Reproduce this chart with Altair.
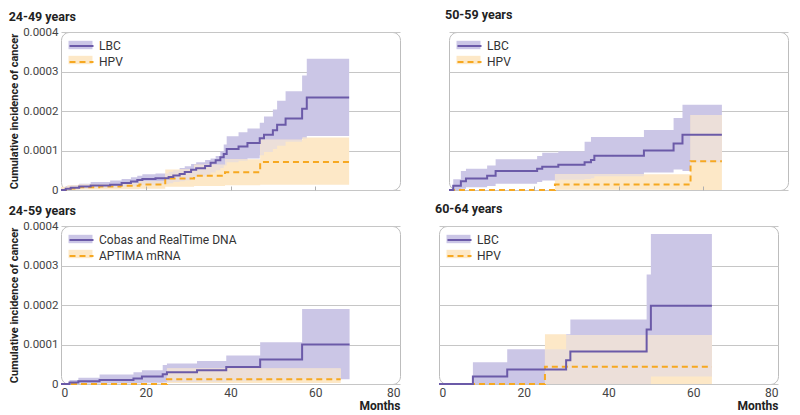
import altair as alt
import pandas as pd

SCALE = 1e-5  # all incidence values below are in units of 0.00001

# ---------- Panel 1: 24-49 years ----------
A_NAMES = ["LBC", "HPV"]
A_LBC_T = [0, 1.1, 2.3, 4.3, 7, 11.6, 14.3, 16.5, 18, 19.2, 22.3, 25.4, 26.5, 28, 29.2, 30.7, 31.9,
           34, 35.3, 36.5, 37.6, 38.4, 39.1, 41.9, 44, 46.9, 47.9, 50, 51, 53, 56.9, 58, 68]
A_LBC_EST = [0, 0.3, 0.56, 0.88, 1.12, 1.36, 1.76, 2.16, 2.56, 2.8, 3.0, 3.28, 3.68, 4.08, 4.56, 5.12, 5.52,
             6.1, 6.9, 7.52, 8.3, 9.1, 10.4, 11.0, 11.9, 13.1, 14.0, 15.1, 16.5, 18.1, 20.6, 23.4, 23.4]
A_LBC_LO = [0, 0.1, 0.2, 0.35, 0.5, 0.6, 0.8, 1.0, 1.2, 1.35, 1.5, 1.7, 2.0, 2.2, 2.5, 3.0, 3.4,
            3.8, 4.4, 5.0, 5.6, 6.2, 7.0, 7.4, 8.0, 8.8, 9.6, 10.4, 11.2, 12.2, 13.0, 13.7, 13.7]
A_LBC_HI = [0.3, 1.0, 1.2, 1.6, 2.0, 2.4, 2.8, 3.2, 3.6, 4.0, 4.2, 4.6, 5.0, 5.6, 6.0, 6.6, 7.0,
            7.6, 8.0, 8.6, 9.8, 11.5, 13.6, 14.6, 15.6, 17.0, 18.6, 20.4, 22.6, 25.0, 29.0, 33.2, 33.2]
A_HPV_T = [0, 1.5, 4, 9, 14, 18.5, 24.6, 31.4, 38.7, 47, 57, 68]
A_HPV_EST = [0, 0.4, 0.7, 0.9, 1.1, 1.4, 2.9, 3.6, 4.5, 7.1, 7.1, 7.1]
A_HPV_LO = [0, 0.05, 0.1, 0.15, 0.2, 0.3, 0.8, 1.0, 1.2, 1.3, 1.3, 1.3]
A_HPV_HI = [0.8, 1.2, 1.4, 1.5, 1.7, 2.2, 5.2, 6.4, 7.8, 12.7, 13.3, 13.3]

# ---------- Panel 2: 50-59 years ----------
B_NAMES = ["LBC", "HPV"]
B_LBC_T = [0, 1.0, 2.8, 4.0, 9.0, 11.0, 20.8, 22.0, 25.8, 32.0, 33.5, 34.3, 46.0, 53.0, 55.1, 57.0, 64.4]
B_LBC_EST = [0, 1.05, 2.2, 2.9, 3.6, 4.8, 5.4, 5.9, 6.4, 7.0, 7.6, 8.7, 10.0, 11.8, 14.0, 14.0, 14.0]
B_LBC_LO = [0, 0, 0.3, 0.7, 1.0, 1.6, 2.0, 2.4, 2.6, 2.8, 3.0, 3.5, 4.4, 5.2, 4.8, 7.0, 7.0]
B_LBC_HI = [0, 2.7, 4.8, 5.4, 6.2, 7.8, 8.6, 9.4, 9.8, 12.2, 13.4, 13.4, 15.2, 18.2, 21.6, 21.6, 21.6]
B_HPV_T = [0, 25.0, 57.0, 64.4]
B_HPV_EST = [0, 1.37, 7.3, 7.3]
B_HPV_LO = [0, 0.05, 0, 0]
B_HPV_HI = [0, 4.0, 19.0, 19.0]

# ---------- Panel 3: 24-59 years ----------
C_NAMES = ["Cobas and RealTime DNA", "APTIMA mRNA"]
C_DNA_T = [0, 2.0, 4.1, 9.1, 17.1, 19.1, 24.0, 25.0, 32.1, 39.0, 47.0, 56.9, 68.1]
C_DNA_EST = [0, 0.35, 0.7, 1.0, 1.4, 1.9, 2.5, 3.0, 3.5, 4.3, 6.2, 10.0, 10.0]
C_DNA_LO = [0, 0, 0.05, 0.1, 0.2, 0.3, 0.4, 0.5, 0.6, 0.8, 1.0, 1.2, 1.2]
C_DNA_HI = [0, 1.0, 1.6, 2.4, 3.0, 3.5, 4.8, 5.2, 5.8, 7.2, 10.6, 19.0, 19.0]
C_MRNA_T = [0, 25.0, 66.0]
C_MRNA_EST = [0, 1.2, 1.2]
C_MRNA_LO = [0, 0.25, 0.25]
C_MRNA_HI = [0.1, 3.95, 3.95]

# ---------- Panel 4: 60-64 years ----------
D_NAMES = ["LBC", "HPV"]
D_LBC_T = [0, 8.0, 16.1, 30.0, 31.0, 49.0, 50.0, 64.4]
D_LBC_EST = [0, 1.9, 3.7, 6.0, 8.2, 13.8, 19.8, 19.8]
D_LBC_LO = [0, 0, 0, 0, 0, 0, 1.9, 1.9]
D_LBC_HI = [0, 5.5, 8.8, 12.6, 16.3, 27.7, 38.0, 38.0]
D_HPV_T = [0, 8.0, 25.0, 30.0, 64.4]
D_HPV_EST = [0, 0, 4.35, 4.35, 4.35]
D_HPV_LO = [0, 0, 0, 0, 0]
D_HPV_HI = [0, 0, 12.6, 12.4, 12.4]

PANEL_TITLES = ["24-49 years", "50-59 years", "24-59 years", "60-64 years"]
Y_TICKS = [0, 0.0001, 0.0002, 0.0003, 0.0004]
X_TICKS = [0, 20, 40, 60, 80]

PURPLE_LINE = "#6b5aa8"
PURPLE_BAND = "#cbc6e6"
ORANGE_LINE = "#f6a821"
ORANGE_BAND = "#fde8c7"
OVERLAP = "#ecdfd9"
GRID = "#c6c6c6"
FONT = "Roboto"

W, H = 339, 158


def series_df(name, t, est, lo, hi):
    return pd.DataFrame({
        "series": name,
        "series2": name + " ",
        "month": t,
        "est": [v * SCALE for v in est],
        "lo": [v * SCALE for v in lo],
        "hi": [v * SCALE for v in hi],
    })


def step_val(ts, vals, x):
    v = vals[0]
    for ti, vi in zip(ts, vals):
        if ti <= x:
            v = vi
        else:
            break
    return v


def overlap_df(s1, s2):
    end = min(s1[0][-1], s2[0][-1])
    grid = sorted(set([t for t in list(s1[0]) + list(s2[0]) if t <= end]) | {end})
    rows = []
    for x in grid:
        lo = max(step_val(s1[0], s1[2], x), step_val(s2[0], s2[2], x))
        hi = min(step_val(s1[0], s1[3], x), step_val(s2[0], s2[3], x))
        if hi < lo:
            hi = lo
        rows.append({"month": x, "lo": lo * SCALE, "hi": hi * SCALE})
    return pd.DataFrame(rows)


def panel(title, names, s1, s2, left, bottom):
    d = pd.concat([series_df(names[0], *s1), series_df(names[1], *s2)], ignore_index=True)
    ov = overlap_df(s1, s2)
    names2 = [n + " " for n in names]

    xscale = alt.Scale(domain=[0, 80], nice=False, zero=False)
    yscale = alt.Scale(domain=[0, 0.0004], nice=False)
    if bottom:
        xaxis = alt.Axis(values=X_TICKS, tickCount=5, ticks=False, domain=False, grid=False,
                         labelFontSize=12, labelColor="#444", labelPadding=3,
                         title="Months", titleAnchor="end", titleFontSize=12,
                         titleFontWeight="bold", titleColor="#222", titlePadding=2)
    else:
        xaxis = alt.Axis(values=[20, 40, 60], tickCount=3, labels=False, ticks=True, tickSize=4,
                         offset=-4, tickColor="#b0b0b0", domain=False, grid=False, title=None,
                         zindex=1)
    if left:
        yaxis = alt.Axis(values=Y_TICKS, tickCount=5, grid=True, gridColor=GRID, domain=False,
                         ticks=False, labelOverlap=False,
                         labelExpr="datum.value == 0 ? '0' : format(datum.value, '.4f')",
                         labelFontSize=11.5, labelColor="#444", labelPadding=3,
                         title="Cumulative incidence of cancer", titleFontSize=11,
                         titleFontWeight="bold", titleColor="#222", titlePadding=3)
    else:
        yaxis = alt.Axis(values=Y_TICKS, tickCount=5, grid=True, gridColor=GRID, domain=False,
                         ticks=False, labels=False, title=None)

    x = alt.X("month:Q", scale=xscale, axis=xaxis)

    common = dict(title=None, orient="none", legendX=13.5, legendY=7, symbolSize=144,
                  labelFontSize=12, padding=0, rowPadding=3, labelOffset=10.5)

    band = alt.Chart(d).mark_area(interpolate="step-after").encode(
        x=x,
        y=alt.Y("lo:Q", scale=yscale, axis=yaxis, stack=None),
        y2="hi:Q",
        fill=alt.Fill("series:N", sort=names,
                      scale=alt.Scale(domain=names, range=[PURPLE_BAND, ORANGE_BAND]),
                      legend=alt.Legend(symbolType="M-2,-0.7H2V0.7H-2Z", symbolStrokeWidth=0,
                                        symbolOpacity=1, labelExpr="' '", zindex=0, **common)),
    )
    over = alt.Chart(ov).mark_area(interpolate="step-after", color=OVERLAP).encode(
        x="month:Q", y=alt.Y("lo:Q", stack=None), y2="hi:Q")

    leg = dict(symbolType="M-2,0H2", symbolStrokeWidth=2, labelColor="#333", zindex=1, **common)
    stroke = alt.Stroke("series2:N", sort=names2,
                        scale=alt.Scale(domain=names2, range=[PURPLE_LINE, ORANGE_LINE]),
                        legend=alt.Legend(**leg))
    dash = alt.StrokeDash("series2:N", sort=names2,
                          scale=alt.Scale(domain=names2, range=[[1, 0], [6, 4]]),
                          legend=alt.Legend(**leg))
    line2 = alt.Chart(d).transform_filter(alt.datum.series == names[1]).mark_line(
        interpolate="step-after", strokeWidth=2).encode(x="month:Q", y="est:Q", stroke=stroke,
                                                        strokeDash=dash)
    line1 = alt.Chart(d).transform_filter(alt.datum.series == names[0]).mark_line(
        interpolate="step-after", strokeWidth=2).encode(x="month:Q", y="est:Q", stroke=stroke,
                                                        strokeDash=dash)

    return alt.layer(band, over, line2, line1).properties(
        width=W, height=H,
        title=alt.TitleParams(title, anchor="start", fontSize=12.5, fontWeight="bold",
                              color="#222", offset=3 if left else 11),
    )


pA = panel(PANEL_TITLES[0], A_NAMES, (A_LBC_T, A_LBC_EST, A_LBC_LO, A_LBC_HI),
           (A_HPV_T, A_HPV_EST, A_HPV_LO, A_HPV_HI), True, False)
pB = panel(PANEL_TITLES[1], B_NAMES, (B_LBC_T, B_LBC_EST, B_LBC_LO, B_LBC_HI),
           (B_HPV_T, B_HPV_EST, B_HPV_LO, B_HPV_HI), False, False)
pC = panel(PANEL_TITLES[2], C_NAMES, (C_DNA_T, C_DNA_EST, C_DNA_LO, C_DNA_HI),
           (C_MRNA_T, C_MRNA_EST, C_MRNA_LO, C_MRNA_HI), True, True)
pD = panel(PANEL_TITLES[3], D_NAMES, (D_LBC_T, D_LBC_EST, D_LBC_LO, D_LBC_HI),
           (D_HPV_T, D_HPV_EST, D_HPV_LO, D_HPV_HI), False, True)

ind = dict(fill="independent", stroke="independent", strokeDash="independent")

top = alt.hconcat(pA, pB, spacing=43).resolve_scale(**ind).resolve_legend(**ind)
bot = alt.hconcat(pC, pD, spacing=33).resolve_scale(**ind).resolve_legend(**ind)

chart = alt.vconcat(top, bot, spacing=6).resolve_scale(**ind).resolve_legend(**ind).properties(
    padding={"left": 0, "top": 0, "right": 2, "bottom": 0}
).configure(font=FONT).configure_view(
    stroke="#bdbdbd", strokeWidth=1, cornerRadius=8
)

chart.save("out.html", embed_options={"renderer": "svg", "actions": False})
